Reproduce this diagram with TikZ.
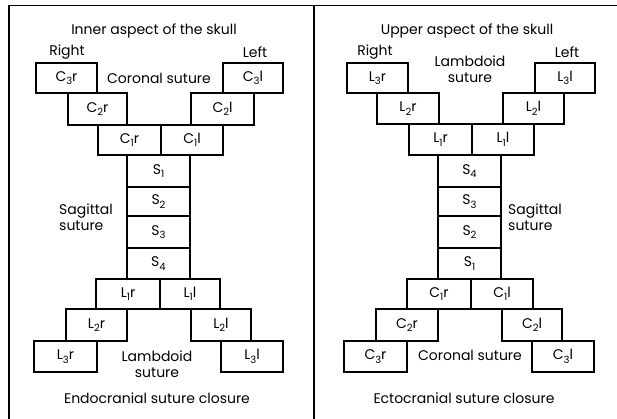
\documentclass[tikz,border=0pt]{standalone}
\usepackage{fontspec}
\setmainfont{Poppins}
\newcommand{\sbx}[1]{\raisebox{-0.45ex}{\fontsize{10}{10}\selectfont #1}}
\begin{document}
\begin{tikzpicture}[x=1pt,y=-1pt,
  bx/.style={draw,line width=1.1pt,inner sep=0pt,minimum height=30pt,font=\fontsize{14}{15}\selectfont},
  lbl/.style={inner sep=0pt,font=\fontsize{14}{16}\selectfont,align=center},
  frame/.style={line width=1.3pt}]
\useasboundingbox (0,0) rectangle (617,419);
\coordinate (fa) at (9,419);
\coordinate (fb) at (9,5.5);
\coordinate (fc) at (617,5.5);
\coordinate (md) at (314,5.5);
\coordinate (me) at (314,419);
\draw[frame] (fa) -- (fb) -- (fc);
\draw[frame] (md) -- (me);
% left panel
\node[lbl] (t1) at (154,31) {Inner aspect of the skull};
\node[lbl] (r1) at (67,52) {Right};
\node[lbl] (lf1) at (255,52) {Left};
\node[bx,minimum width=61pt] (aC3r) at (66.5,78) {C\sbx{3}r};
\node[bx,minimum width=60pt] (aC3l) at (253,78) {C\sbx{3}l};
\node[lbl] (cs1) at (159,78) {Coronal suture};
\node[bx,minimum width=59pt,minimum height=32pt] (aC2r) at (97.5,109) {C\sbx{2}r};
\node[bx,minimum width=63pt,minimum height=32pt] (aC2l) at (222.5,109) {C\sbx{2}l};
\node[bx,minimum width=63pt] (aC1r) at (129.5,140) {C\sbx{1}r};
\node[bx,minimum width=62pt] (aC1l) at (192,140) {C\sbx{1}l};
\node[bx,minimum width=63pt,minimum height=32pt] (aS1) at (158.5,171) {S\sbx{1}};
\node[bx,minimum width=63pt,minimum height=29pt] (aS2) at (158.5,201.5) {S\sbx{2}};
\node[bx,minimum width=63pt,minimum height=32pt] (aS3) at (158.5,232) {S\sbx{3}};
\node[bx,minimum width=63pt,minimum height=31pt] (aS4) at (158.5,263.5) {S\sbx{4}};
\node[lbl,align=left,anchor=west] (ss1) at (59,217) {Sagittal\\suture};
\node[bx,minimum width=64pt] (aL1r) at (128,294) {L\sbx{1}r};
\node[bx,minimum width=60pt] (aL1l) at (190,294) {L\sbx{1}l};
\node[bx,minimum width=61pt,minimum height=32pt] (aL2r) at (96.5,325) {L\sbx{2}r};
\node[bx,minimum width=60pt,minimum height=32pt] (aL2l) at (221,325) {L\sbx{2}l};
\node[bx,minimum width=63pt,minimum height=31pt] (aL3r) at (65.5,356.5) {L\sbx{3}r};
\node[bx,minimum width=62pt,minimum height=31pt] (aL3l) at (252,356.5) {L\sbx{3}l};
\node[lbl] (ls1) at (157,364) {Lambdoid\\suture};
\node[lbl] (b1) at (157,398) {Endocranial suture closure};
% right panel
\node[lbl] (t2) at (467,31) {Upper aspect of the skull};
\node[lbl] (r2) at (375,52) {Right};
\node[lbl] (lf2) at (567,52) {Left};
\node[lbl] (ls2) at (470,69) {Lambdoid\\suture};
\node[bx,minimum width=61pt] (bL3r) at (377.5,78) {L\sbx{3}r};
\node[bx,minimum width=60pt] (bL3l) at (565,78) {L\sbx{3}l};
\node[bx,minimum width=62pt,minimum height=31pt] (bL2r) at (408,108.5) {L\sbx{2}r};
\node[bx,minimum width=61pt,minimum height=31pt] (bL2l) at (533.5,108.5) {L\sbx{2}l};
\node[bx,minimum width=63pt,minimum height=31pt] (bL1r) at (440.5,139.5) {L\sbx{1}r};
\node[bx,minimum width=62pt,minimum height=31pt] (bL1l) at (503,139.5) {L\sbx{1}l};
\node[bx,minimum width=63pt,minimum height=32pt] (bS4) at (469.5,171) {S\sbx{4}};
\node[bx,minimum width=63pt,minimum height=29pt] (bS3) at (469.5,201.5) {S\sbx{3}};
\node[bx,minimum width=63pt,minimum height=32pt] (bS2) at (469.5,232) {S\sbx{2}};
\node[bx,minimum width=63pt,minimum height=31pt] (bS1) at (469.5,263.5) {S\sbx{1}};
\node[lbl,align=left,anchor=west] (ss2) at (508,217) {Sagittal\\suture};
\node[bx,minimum width=64pt] (bC1r) at (439,294) {C\sbx{1}r};
\node[bx,minimum width=62pt] (bC1l) at (502,294) {C\sbx{1}l};
\node[bx,minimum width=62pt,minimum height=32pt] (bC2r) at (407,325) {C\sbx{2}r};
\node[bx,minimum width=60pt,minimum height=32pt] (bC2l) at (532,325) {C\sbx{2}l};
\node[bx,minimum width=63pt,minimum height=31pt] (bC3r) at (375.5,356.5) {C\sbx{3}r};
\node[bx,minimum width=62pt,minimum height=31pt] (bC3l) at (563,356.5) {C\sbx{3}l};
\node[lbl] (cs2) at (470,355) {Coronal suture};
\node[lbl] (b2) at (464,398) {Ectocranial suture closure};
\end{tikzpicture}
\end{document}
